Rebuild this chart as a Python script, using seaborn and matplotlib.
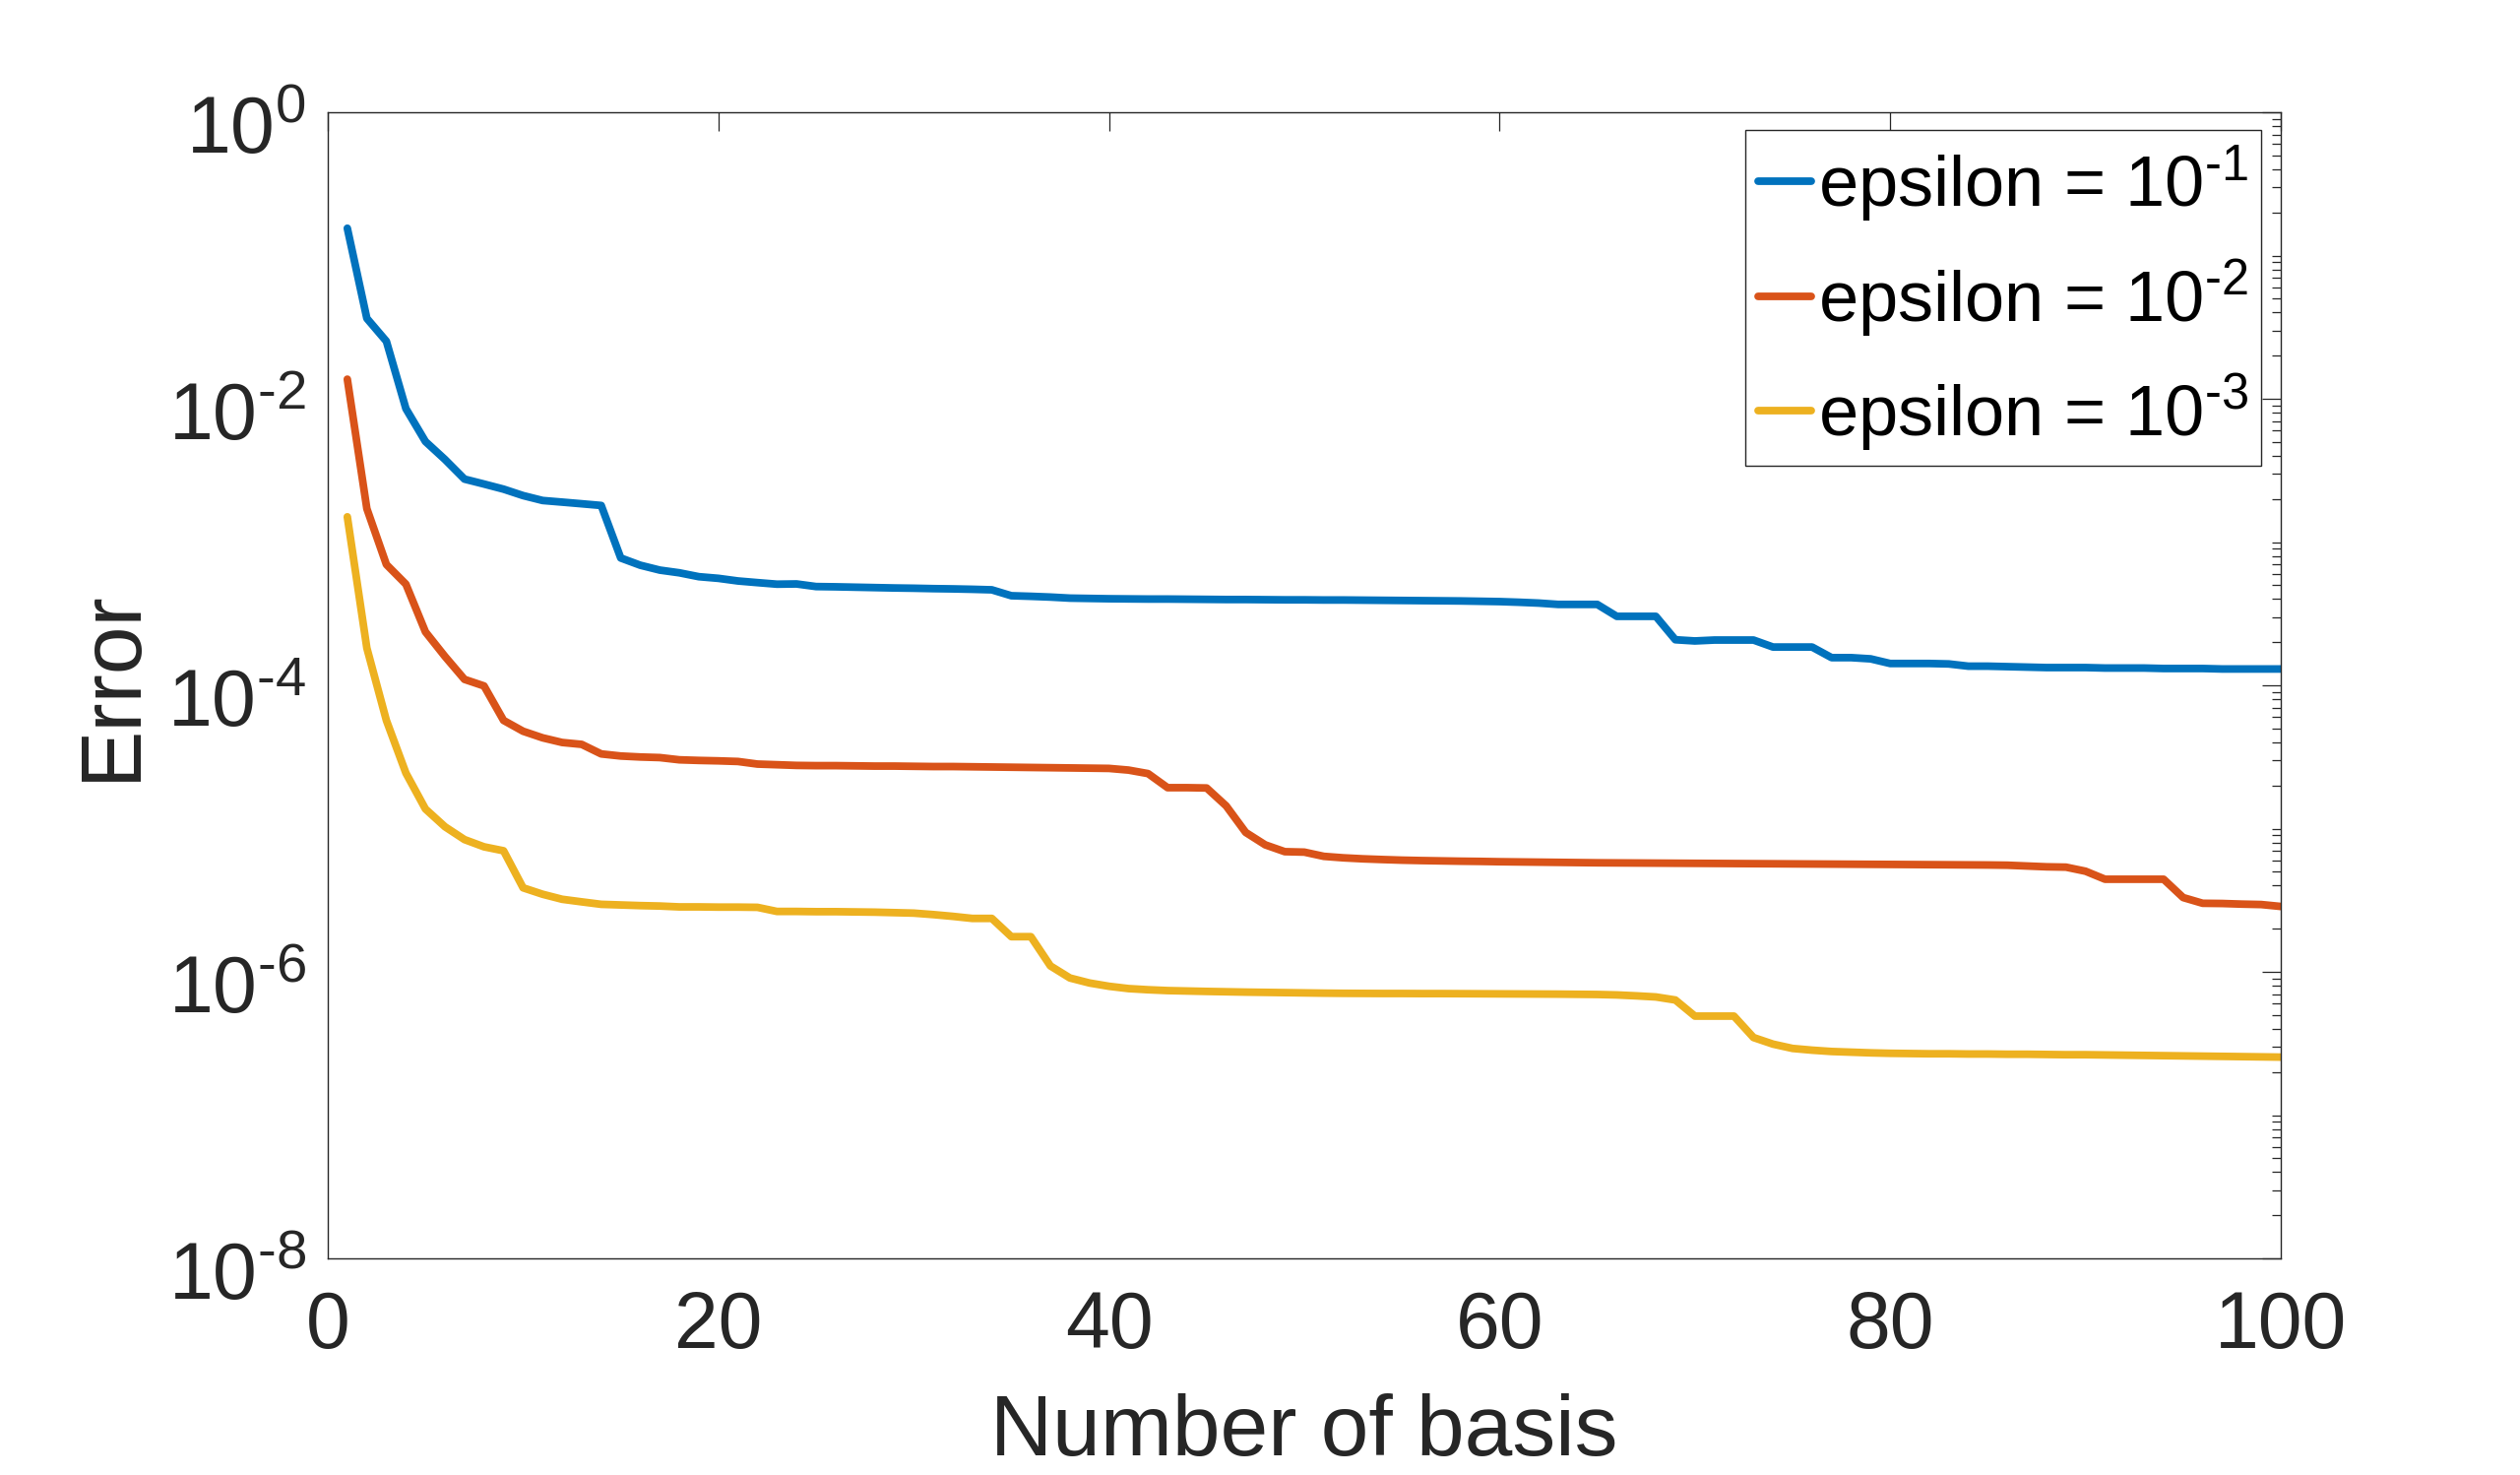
import numpy as np
import pandas as pd
import seaborn as sns
import matplotlib
matplotlib.use('Agg')
import matplotlib.pyplot as plt
import matplotlib.transforms as mtransforms
from matplotlib.ticker import LogLocator, NullFormatter

# number of basis functions
n_basis = list(range(1, 101))

# error curves
err_eps1 = [
    0.155, 0.0364, 0.0252, 0.00853, 0.00503, 0.00377, 0.00275, 0.00254, 0.00234, 0.00211,
    0.00195, 0.00190, 0.00185, 0.00180, 7.74e-4, 6.89e-4, 6.37e-4, 6.10e-4, 5.73e-4, 5.58e-4,
    5.35e-4, 5.21e-4, 5.08e-4, 5.10e-4, 4.89e-4, 4.87e-4, 4.84e-4, 4.81e-4, 4.78e-4, 4.76e-4,
    4.73e-4, 4.71e-4, 4.68e-4, 4.64e-4, 4.22e-4, 4.18e-4, 4.13e-4, 4.06e-4, 4.04e-4, 4.02e-4,
    4.01e-4, 4.00e-4, 4.00e-4, 3.99e-4, 3.98e-4, 3.97e-4, 3.97e-4, 3.96e-4, 3.95e-4, 3.95e-4,
    3.94e-4, 3.94e-4, 3.93e-4, 3.92e-4, 3.91e-4, 3.90e-4, 3.89e-4, 3.88e-4, 3.86e-4, 3.84e-4,
    3.80e-4, 3.75e-4, 3.67e-4, 3.67e-4, 3.67e-4, 3.03e-4, 3.03e-4, 3.03e-4, 2.08e-4, 2.04e-4,
    2.07e-4, 2.07e-4, 2.07e-4, 1.85e-4, 1.85e-4, 1.85e-4, 1.56e-4, 1.56e-4, 1.53e-4, 1.42e-4,
    1.42e-4, 1.42e-4, 1.41e-4, 1.36e-4, 1.36e-4, 1.35e-4, 1.34e-4, 1.33e-4, 1.33e-4, 1.33e-4,
    1.32e-4, 1.32e-4, 1.32e-4, 1.31e-4, 1.31e-4, 1.31e-4, 1.30e-4, 1.30e-4, 1.30e-4, 1.30e-4,
]
err_eps2 = [
    0.0137, 0.00171, 6.97e-4, 5.08e-4, 2.36e-4, 1.59e-4, 1.10e-4, 9.9e-5, 5.69e-5, 4.78e-5,
    4.30e-5, 3.99e-5, 3.87e-5, 3.32e-5, 3.21e-5, 3.16e-5, 3.13e-5, 3.02e-5, 2.99e-5, 2.97e-5,
    2.94e-5, 2.82e-5, 2.79e-5, 2.76e-5, 2.75e-5, 2.75e-5, 2.74e-5, 2.73e-5, 2.73e-5, 2.72e-5,
    2.71e-5, 2.71e-5, 2.70e-5, 2.69e-5, 2.68e-5, 2.67e-5, 2.66e-5, 2.65e-5, 2.64e-5, 2.63e-5,
    2.56e-5, 2.42e-5, 1.93e-5, 1.93e-5, 1.92e-5, 1.44e-5, 9.4e-6, 7.7e-6, 6.9e-6, 6.85e-6,
    6.4e-6, 6.25e-6, 6.15e-6, 6.08e-6, 6.02e-6, 5.98e-6, 5.95e-6, 5.92e-6, 5.90e-6, 5.87e-6,
    5.85e-6, 5.83e-6, 5.81e-6, 5.79e-6, 5.77e-6, 5.76e-6, 5.75e-6, 5.74e-6, 5.73e-6, 5.72e-6,
    5.71e-6, 5.70e-6, 5.69e-6, 5.68e-6, 5.67e-6, 5.66e-6, 5.65e-6, 5.64e-6, 5.63e-6, 5.62e-6,
    5.61e-6, 5.60e-6, 5.59e-6, 5.58e-6, 5.57e-6, 5.55e-6, 5.48e-6, 5.41e-6, 5.38e-6, 5.04e-6,
    4.43e-6, 4.43e-6, 4.43e-6, 4.43e-6, 3.30e-6, 3.01e-6, 3.00e-6, 2.97e-6, 2.95e-6, 2.86e-6,
]
err_eps3 = [
    0.0015, 1.82e-4, 5.69e-5, 2.44e-5, 1.37e-5, 1.03e-5, 8.38e-6, 7.46e-6, 7.0e-6, 3.86e-6,
    3.48e-6, 3.21e-6, 3.08e-6, 2.96e-6, 2.93e-6, 2.90e-6, 2.88e-6, 2.84e-6, 2.84e-6, 2.83e-6,
    2.83e-6, 2.82e-6, 2.64e-6, 2.64e-6, 2.63e-6, 2.63e-6, 2.62e-6, 2.61e-6, 2.59e-6, 2.57e-6,
    2.51e-6, 2.44e-6, 2.36e-6, 2.36e-6, 1.76e-6, 1.76e-6, 1.10e-6, 9.06e-7, 8.36e-7, 7.93e-7,
    7.64e-7, 7.50e-7, 7.40e-7, 7.35e-7, 7.30e-7, 7.26e-7, 7.22e-7, 7.19e-7, 7.16e-7, 7.13e-7,
    7.10e-7, 7.08e-7, 7.07e-7, 7.06e-7, 7.06e-7, 7.05e-7, 7.05e-7, 7.04e-7, 7.03e-7, 7.02e-7,
    7.01e-7, 7.00e-7, 6.99e-7, 6.97e-7, 6.95e-7, 6.90e-7, 6.80e-7, 6.68e-7, 6.36e-7, 4.91e-7,
    4.91e-7, 4.91e-7, 3.48e-7, 3.13e-7, 2.92e-7, 2.84e-7, 2.78e-7, 2.75e-7, 2.72e-7, 2.70e-7,
    2.69e-7, 2.68e-7, 2.68e-7, 2.67e-7, 2.67e-7, 2.66e-7, 2.66e-7, 2.65e-7, 2.64e-7, 2.64e-7,
    2.63e-7, 2.62e-7, 2.61e-7, 2.60e-7, 2.59e-7, 2.58e-7, 2.57e-7, 2.56e-7, 2.55e-7, 2.54e-7,
]

series_labels = ['epsilon = $10^{\u2010' + '1}$',
                 'epsilon = $10^{\u2010' + '2}$',
                 'epsilon = $10^{\u2010' + '3}$']
colors = ['#0072BD', '#D95319', '#EDB120']

xtick_vals = [0, 20, 40, 60, 80, 100]
ytick_vals = [1e-8, 1e-6, 1e-4, 1e-2, 1e0]
ytick_labels = ['$10^{\u20108}$', '$10^{\u20106}$', '$10^{\u20104}$', '$10^{\u20102}$', '$10^{0}$']


def main():
    df = pd.DataFrame({
        'basis': n_basis * 3,
        'error': err_eps1 + err_eps2 + err_eps3,
        'eps': [series_labels[0]] * 100 + [series_labels[1]] * 100 + [series_labels[2]] * 100,
    })

    sns.set_theme(style='white')
    plt.rcParams['font.family'] = ['Liberation Sans', 'DejaVu Sans']
    plt.rcParams['mathtext.fontset'] = 'custom'
    plt.rcParams['mathtext.rm'] = 'Liberation Sans'
    plt.rcParams['mathtext.default'] = 'regular'
    dark = '#262626'

    fig = plt.figure(figsize=(25.6, 14.98), dpi=100)
    ax = fig.add_axes([333 / 2560, 1 - 1278 / 1498, 1984 / 2560, 1164 / 1498])

    sns.lineplot(data=df, x='basis', y='error', hue='eps', palette=colors,
                 linewidth=5.6, ax=ax, legend=True)

    ax.set_yscale('log')
    ax.set_xlim(0, 100)
    ax.set_ylim(1e-8, 1)
    ax.set_xticks(xtick_vals)
    ax.set_yticks(ytick_vals, ytick_labels)
    ax.yaxis.set_minor_locator(LogLocator(base=10, subs=np.arange(1, 10), numticks=50))
    ax.yaxis.set_minor_formatter(NullFormatter())

    ax.tick_params(axis='both', which='both', direction='in', top=True, right=True,
                   colors=dark, labelsize=58)
    ax.tick_params(which='major', length=13.7, width=0.9)
    ax.tick_params(which='minor', length=6.5, width=0.9)
    ax.tick_params(axis='x', pad=23)
    ax.tick_params(axis='y', pad=16)
    # y tick labels sit a bit below their ticks in the original
    shift = mtransforms.ScaledTranslation(0, -8 / 72, fig.dpi_scale_trans)
    for lab in ax.get_yticklabels():
        lab.set_transform(lab.get_transform() + shift)
    for sp in ax.spines.values():
        sp.set_visible(True)
        sp.set_color(dark)
        sp.set_linewidth(1.0)

    ax.set_xlabel('Number of basis', fontsize=63, color=dark)
    ax.set_ylabel('Error', fontsize=63, color=dark)
    ax.xaxis.set_label_coords(0.5, -0.118)
    ax.yaxis.set_label_coords(-0.090, 0.5)

    leg = ax.legend(loc='upper right', bbox_to_anchor=(0.990, 0.9845), borderaxespad=0,
                    fontsize=52, frameon=True, fancybox=False, framealpha=1,
                    handlelength=0.75, handletextpad=0.1, labelspacing=0.46,
                    borderpad=0.18, title=None)
    leg.get_frame().set_edgecolor(dark)
    leg.get_frame().set_linewidth(1.0)
    for line in leg.get_lines():
        line.set_linewidth(5.6)
    for t in leg.get_texts():
        t.set_color('black')

    fig.savefig('out.png', dpi=100)


if __name__ == '__main__':
    main()
